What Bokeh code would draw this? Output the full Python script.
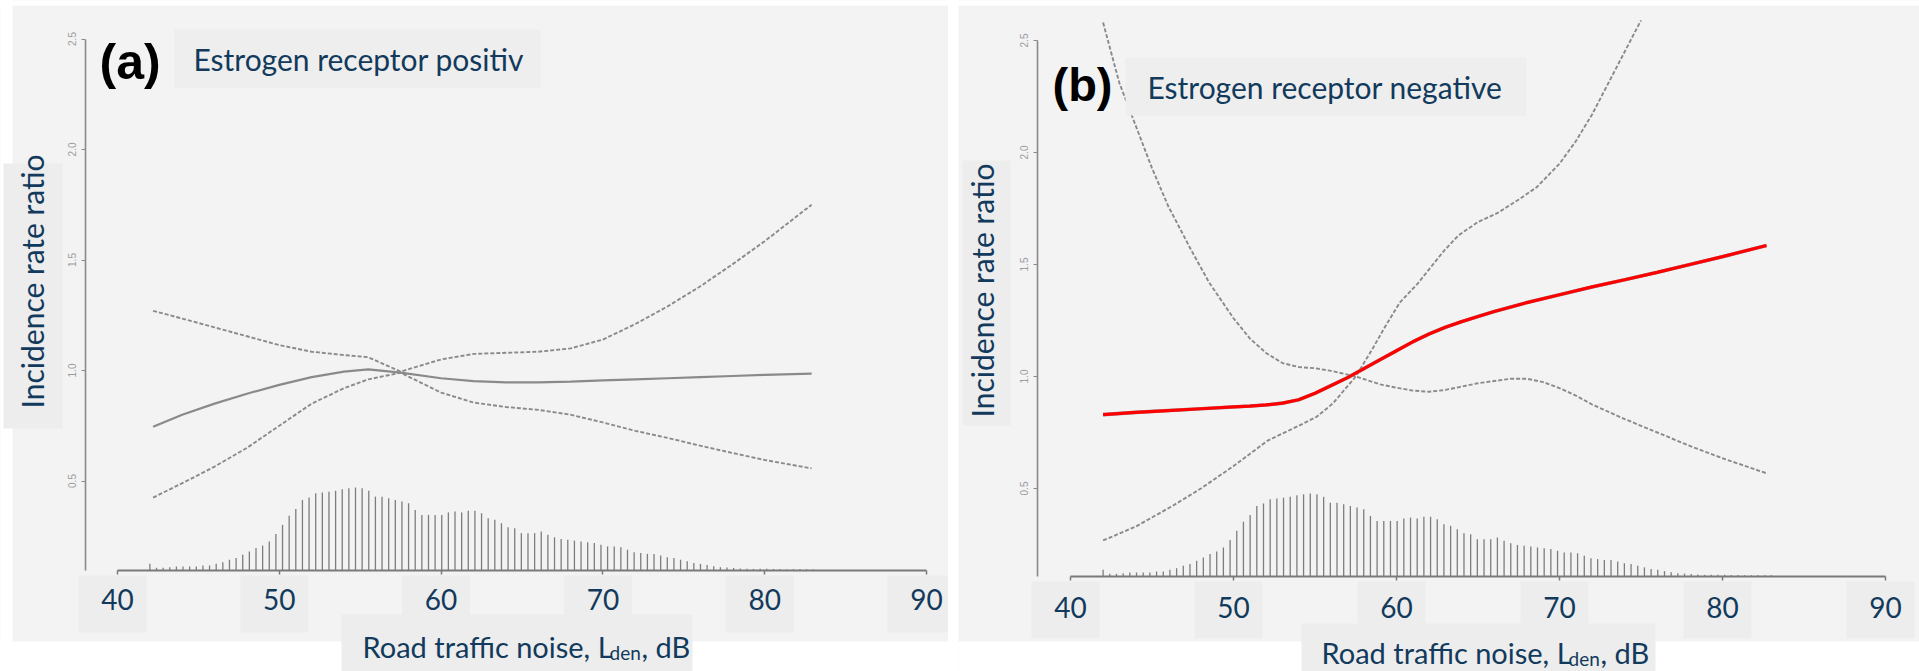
import math
from bokeh.plotting import figure
from bokeh.models import Label, BoxAnnotation, FixedTicker, Range1d, Spacer
from bokeh.layouts import row
from bokeh.embed import file_html
from bokeh.resources import INLINE

# ---------------- data ----------------
x_ticks = [40, 50, 60, 70, 80, 90]
y_ticks = [0.5, 1.0, 1.5, 2.0, 2.5]
y_tick_labels = ["0.5", "1.0", "1.5", "2.0", "2.5"]

# exposure distribution (bar positions in dB and relative height)
hist_db = [42.00, 42.41, 42.82, 43.23, 43.64, 44.05, 44.46, 44.87, 45.28, 45.69,
           46.10, 46.51, 46.92, 47.33, 47.74, 48.15, 48.56, 48.97, 49.38, 49.79,
           50.20, 50.61, 51.02, 51.43, 51.84, 52.25, 52.66, 53.07, 53.48, 53.89,
           54.30, 54.71, 55.12, 55.53, 55.94, 56.35, 56.76, 57.17, 57.58, 57.99,
           58.40, 58.81, 59.22, 59.63, 60.04, 60.45, 60.86, 61.27, 61.68, 62.09,
           62.50, 62.91, 63.32, 63.73, 64.14, 64.55, 64.96, 65.37, 65.78, 66.19,
           66.60, 67.01, 67.42, 67.83, 68.24, 68.65, 69.06, 69.47, 69.88, 70.29,
           70.70, 71.11, 71.52, 71.93, 72.34, 72.75, 73.16, 73.57, 73.98, 74.39,
           74.80, 75.21, 75.62, 76.03, 76.44, 76.85, 77.26, 77.67, 78.08, 78.49,
           78.90, 79.31, 79.72, 80.13, 80.54, 80.95, 81.36, 81.77, 82.18, 82.59,
           83.00]
hist_rel = [0.08, 0.032, 0.032, 0.04, 0.048, 0.048, 0.048, 0.048, 0.06, 0.06,
            0.08, 0.10, 0.13, 0.15, 0.19, 0.23, 0.27, 0.30, 0.35, 0.44,
            0.55, 0.66, 0.74, 0.85, 0.88, 0.93, 0.94, 0.95, 0.96, 0.98,
            0.99, 1.00, 0.99, 0.96, 0.89, 0.89, 0.87, 0.85, 0.83, 0.81,
            0.73, 0.67, 0.67, 0.67, 0.67, 0.70, 0.71, 0.70, 0.72, 0.72,
            0.69, 0.63, 0.61, 0.57, 0.52, 0.51, 0.45, 0.45, 0.45, 0.47,
            0.43, 0.40, 0.38, 0.37, 0.36, 0.35, 0.34, 0.33, 0.31, 0.29,
            0.29, 0.28, 0.25, 0.22, 0.21, 0.20, 0.20, 0.18, 0.16, 0.15,
            0.13, 0.11, 0.09, 0.08, 0.065, 0.05, 0.04, 0.035, 0.03, 0.025,
            0.02, 0.02, 0.02, 0.02, 0.018, 0.018, 0.015, 0.015, 0.015, 0.015,
            0.015]

# (a) estrogen receptor positive
noise_a = [42.2, 44, 46, 48, 50, 52, 54, 55.5, 57.5, 60, 62, 64, 66, 68, 70,
           72, 74, 76, 78, 80, 82.9]
irr_a = [0.745, 0.80, 0.85, 0.895, 0.935, 0.97, 0.995, 1.005, 0.99, 0.965,
         0.952, 0.946, 0.946, 0.95, 0.955, 0.96, 0.965, 0.97, 0.975, 0.98, 0.986]
upper_a = [1.27, 1.235, 1.195, 1.155, 1.115, 1.085, 1.07, 1.06, 0.995, 1.05,
           1.075, 1.08, 1.085, 1.10, 1.14, 1.21, 1.29, 1.38, 1.48, 1.585, 1.75]
lower_a = [0.425, 0.49, 0.565, 0.65, 0.75, 0.85, 0.92, 0.96, 0.99, 0.90,
           0.855, 0.835, 0.822, 0.80, 0.765, 0.727, 0.695, 0.66, 0.627, 0.595, 0.557]

# (b) estrogen receptor negative
noise_b = [42, 44, 46, 48, 50, 51, 52, 53, 54, 55, 56, 57, 58, 59, 60, 61, 62,
           63, 64, 65, 66, 68, 70, 72, 74, 76, 78, 80, 82.7]
irr_b = [0.83, 0.84, 0.848, 0.856, 0.864, 0.868, 0.873, 0.881, 0.896, 0.925,
         0.96, 0.995, 1.035, 1.075, 1.115, 1.155, 1.19, 1.22, 1.245, 1.268, 1.29,
         1.33, 1.365, 1.40, 1.432, 1.465, 1.50, 1.535, 1.585]
ci1_db_b = [42, 43, 44, 45, 46, 47.4, 48.5, 50, 51, 52, 53, 54, 55, 56, 57.5,
            59, 60, 61, 62, 63, 64, 65, 66, 67, 68, 69, 70, 71, 72, 74, 76, 78,
            80, 82.7]
ci1_b = [2.58, 2.31, 2.12, 1.93, 1.76, 1.565, 1.42, 1.26, 1.17, 1.105, 1.06,
         1.042, 1.037, 1.025, 1.0, 0.965, 0.95, 0.937, 0.932, 0.94, 0.955, 0.97,
         0.98, 0.99, 0.99, 0.975, 0.948, 0.915, 0.875, 0.81, 0.75, 0.69, 0.635,
         0.568]
ci2_db_b = [42, 44, 46.3, 48, 50, 52.1, 54, 55.1, 56.1, 57.5, 58.5, 59.2, 60.2,
            61.3, 62.9, 63.8, 65, 66.2, 67.5, 68.6, 70, 71, 72, 73, 74, 75]
ci2_b = [0.268, 0.33, 0.424, 0.50, 0.60, 0.714, 0.78, 0.82, 0.88, 1.0, 1.12,
         1.21, 1.33, 1.415, 1.56, 1.63, 1.69, 1.73, 1.79, 1.845, 1.95, 2.05,
         2.17, 2.31, 2.45, 2.59]

title_a = "Estrogen receptor positiv"
title_b = "Estrogen receptor negative"
tag_a = "(a)"
tag_b = "(b)"
y_title = "Incidence rate ratio"
x_title_main = "Road traffic noise, L"
x_title_sub = "den"
x_title_end = ", dB"

# ---------------- style ----------------
NAVY = "#123a5c"
PANEL = "#f3f3f3"
BOX = "#ededed"
FONT = "Lato"
FIG_H = 671
TOP = 0
BOTTOM = TOP + FIG_H
TEXT_DY = -9   # compensates the renderer's baseline placement


def box(p, X, Y, l, r, t, b, color, level):
    p.add_layout(BoxAnnotation(left=X(l), right=X(r), top=Y(t), bottom=Y(b),
                               fill_color=color, fill_alpha=1, line_color=None, level=level))


def text(p, X, Y, px, py, s, size, **kw):
    opts = dict(text_font=FONT, text_color=NAVY, text_align="left", text_baseline="alphabetic")
    opts.update(kw)
    p.add_layout(Label(x=X(px), y=Y(py), text=s, text_font_size=f"{size}px", **opts))


def build(g, curves, red, title, tag, L):
    X = lambda px: 40 + (px - g["x40"]) / g["xs"]
    Y = lambda py: 1 + (g["y1"] - py) / g["ys"]
    left, right = g["pl"], g["pl"] + g["w"]
    p = figure(width=g["w"], height=FIG_H, output_backend="svg", toolbar_location=None,
               x_range=Range1d(X(left), X(right)), y_range=Range1d(Y(BOTTOM), Y(TOP)),
               min_border=0, min_border_left=0, min_border_right=0,
               min_border_top=0, min_border_bottom=0)
    p.border_fill_color = PANEL
    p.background_fill_color = PANEL
    p.outline_line_color = None
    p.grid.visible = False

    base = Y(g["axis_y"])
    # white outside the grey panel
    box(p, X, Y, left - 5, right + 5, 641, BOTTOM + 5, "white", "underlay")
    box(p, X, Y, left - 5, right + 5, TOP - 5, 5, "white", "underlay")
    if g.get("white_left"):
        box(p, X, Y, left - 5, g["white_left"], TOP - 5, BOTTOM + 5, "white", "underlay")
    # boxes behind texts
    for t in x_ticks:
        cx = g["x40"] + (t - 40) * g["xs"]
        box(p, X, Y, cx - 39, cx + 29, g["axis_y"] + 5, g["axis_y"] + 62, BOX, "underlay")
    box(p, X, Y, *L["xtitle_box"], BOX, "underlay")
    box(p, X, Y, *L["ytitle_box"], BOX, "underlay")

    # histogram of exposure
    p.segment(x0=hist_db, y0=[base] * len(hist_db), x1=hist_db,
              y1=[base + r * 83 / g["ys"] for r in hist_rel],
              line_color="#7d7d7d", line_width=1.3)

    for xs_, ys_ in curves:
        p.line(xs_, ys_, line_color="#8a8a8a", line_width=1.9, line_dash="4 2")
    est_x, est_y = red if red else L["est"]
    if red:
        p.line(est_x, est_y, line_color="#9a9a9a", line_width=3.6)
        p.line(est_x, est_y, line_color="#ff0000", line_width=3.2)
    else:
        p.line(est_x, est_y, line_color="#8a8a8a", line_width=2.2)

    # axes (placed at fixed positions inside the frame, as in the R figure)
    ya = p.yaxis[0]
    ya.fixed_location = X(g["axis_x"])
    ya.ticker = FixedTicker(ticks=y_ticks, minor_ticks=[])
    ya.major_label_overrides = {t: l for t, l in zip(y_ticks, y_tick_labels)}
    ya.bounds = (base, 2.5)
    ya.major_label_orientation = "vertical"
    ya.major_label_text_font = "Liberation Sans"
    ya.major_label_text_font_size = "10px"
    ya.major_label_text_color = "#9c9c9c"
    ya.major_label_standoff = 6
    ya.major_tick_out = 4
    ya.major_tick_in = 0
    ya.axis_line_color = "#8a8a8a"
    ya.axis_line_width = 1.6
    ya.major_tick_line_color = "#8a8a8a"

    xa = p.xaxis[0]
    xa.fixed_location = base
    xa.ticker = FixedTicker(ticks=x_ticks, minor_ticks=[])
    xa.bounds = (40, 90)
    xa.major_tick_out = 4
    xa.major_tick_in = 0
    xa.axis_line_color = "#7a7a7a"
    xa.axis_line_width = 1.8
    xa.major_tick_line_color = "#7a7a7a"
    xa.major_tick_line_width = 1.5
    xa.major_label_text_font = FONT
    xa.major_label_text_font_size = "28px"
    xa.major_label_text_color = NAVY
    xa.major_label_standoff = g["xstand"]

    # panel tag and title (title box hides the curve behind it)
    box(p, X, Y, *L["title_box"], "#eeeeee", "annotation")
    text(p, X, Y, L["tag"][0], L["tag"][1] - 5, tag, L["tag"][2], text_font="Liberation Sans",
         text_font_style="bold", text_color="black", text_baseline="middle")
    text(p, X, Y, L["title"][0], L["title"][1] + TEXT_DY - 3, title, 30)
    # y title
    text(p, X, Y, L["ytitle"][0], L["ytitle"][1], y_title, 30, text_align="center",
         text_baseline="middle", angle=math.pi / 2)
    # x title with subscript
    xt = L["xtitle"]
    text(p, X, Y, xt[0], xt[3] + TEXT_DY, x_title_main, 29)
    text(p, X, Y, xt[1], xt[3] + 6 + TEXT_DY, x_title_sub, 19)
    text(p, X, Y, xt[2], xt[3] + TEXT_DY, x_title_end, 29)
    return p


geo_a = dict(pl=0, w=948, x40=117, xs=16.18, y1=370, ys=221, axis_y=570, axis_x=85,
             xstand=14, white_left=12)
geo_b = dict(pl=958, w=961, x40=1070, xs=16.3, y1=376, ys=224, axis_y=576, axis_x=1037,
             xstand=16)

lay_a = dict(est=(noise_a, irr_a), tag=(99, 66, 50), title_box=(174, 540, 29, 87),
             title=(193, 70), ytitle_box=(3, 62, 163, 428), ytitle=(31, 281),
             xtitle_box=(341, 692, 614, 700), xtitle=(362, 609, 641, 655))
lay_b = dict(tag=(1052, 89, 47), title_box=(1125, 1526, 57, 115),
             title=(1147, 98), ytitle_box=(962, 1010, 160, 425), ytitle=(981, 290),
             xtitle_box=(1301, 1655, 623, 700), xtitle=(1321, 1568, 1600, 661))

pa = build(geo_a, [(noise_a, upper_a), (noise_a, lower_a)], None, title_a, tag_a, lay_a)
pb = build(geo_b, [(ci1_db_b, ci1_b), (ci2_db_b, ci2_b)], (noise_b, irr_b), title_b, tag_b, lay_b)

layout = row(pa, Spacer(width=10, height=FIG_H), pb)
open("out.html", "w").write(file_html(layout, INLINE))
